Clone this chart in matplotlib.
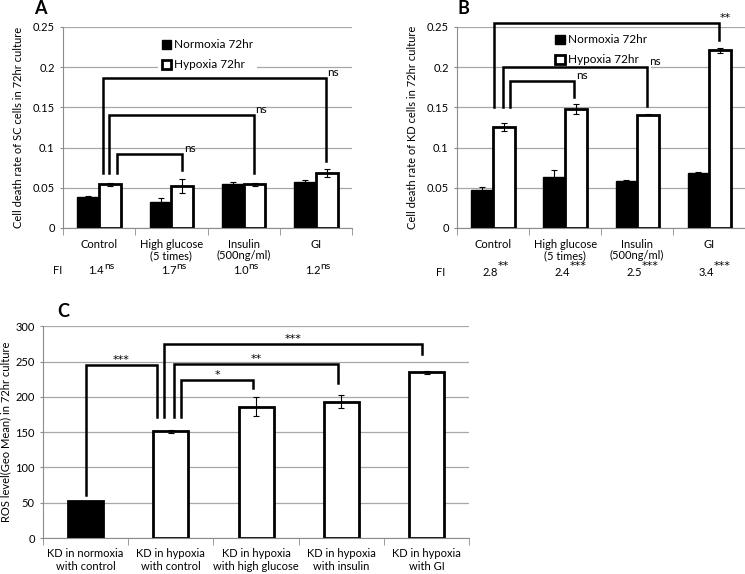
import numpy as np
import matplotlib.pyplot as plt
from matplotlib.transforms import blended_transform_factory

plt.rcParams['font.family'] = ['Lato', 'DejaVu Sans']
plt.rcParams['font.size'] = 8

# ---- panel A / B data ----
groups = ["Control", "High glucose\n(5 times)", "Insulin\n(500ng/ml)", "GI"]
yticks_ab = [0, 0.05, 0.1, 0.15, 0.2, 0.25]
yticklabels_ab = ["0", "0.05", "0.1", "0.15", "0.2", "0.25"]

sc_norm = [0.039, 0.032, 0.055, 0.057]
sc_norm_err = [0.001, 0.005, 0.002, 0.002]
sc_hyp = [0.054, 0.052, 0.054, 0.068]
sc_hyp_err = [0.002, 0.009, 0.002, 0.005]
sc_fi = ["1.4", "1.7", "1.0", "1.2"]
sc_fi_sig = ["ns", "ns", "ns", "ns"]

kd_norm = [0.047, 0.063, 0.058, 0.068]
kd_norm_err = [0.004, 0.009, 0.002, 0.001]
kd_hyp = [0.126, 0.148, 0.141, 0.221]
kd_hyp_err = [0.005, 0.006, 0.001, 0.003]
kd_fi = ["2.8", "2.4", "2.5", "3.4"]
kd_fi_sig = ["**", "***", "***", "***"]

# brackets: (x left, y left, x right, y right, y top, label)
sc_brackets = [(0.24, 0.068, 1.15, 0.072, 0.092, "ns"),
               (0.14, 0.068, 2.14, 0.068, 0.141, "ns"),
               (0.05, 0.068, 3.14, 0.083, 0.186, "ns")]
kd_brackets = [(0.24, 0.151, 1.13, 0.163, 0.183, "ns"),
               (0.14, 0.151, 2.14, 0.152, 0.1996, "ns"),
               (0.02, 0.151, 3.13, 0.2335, 0.2554, "**")]

# ---- panel C data ----
ros_labels = ["KD in normoxia\nwith control", "KD in hypoxia\nwith control",
              "KD in hypoxia\nwith high glucose", "KD in hypoxia\nwith insulin",
              "KD in hypoxia\nwith GI"]
ros_vals = [52, 151, 186, 193, 235]
ros_err = [0, 2, 13.5, 9, 2]
ros_brackets = [(0.0, 61, 0.84, 172, 245, "***"),
                (0.925, 172, 3.945, 260, 275, "***"),
                (1.035, 172, 2.965, 220, 246, "**"),
                (1.125, 172, 1.96, 212, 224, "*")]

GRID = "#a8a8a8"
SPINE = "#8c8c8c"
STAR_FONT = ["DejaVu Sans"]

fig = plt.figure(figsize=(7.45, 5.74), dpi=100)


def style_axes(ax):
    for s in ["top", "right"]:
        ax.spines[s].set_visible(False)
    ax.spines["left"].set_color(SPINE)
    ax.spines["bottom"].set_color(SPINE)
    ax.yaxis.grid(True, color=GRID, lw=0.9)
    ax.set_axisbelow(True)
    ax.tick_params(axis="y", length=2, color=SPINE, pad=4)
    ax.tick_params(axis="x", which="major", length=0)
    ax.tick_params(axis="x", which="minor", length=5, color=SPINE)


def draw_bracket(ax, b, centered=False):
    x0, y0, x1, y1, yt, lab = b
    ax.plot([x0, x0, x1, x1], [y0, yt, yt, y1], color="k", lw=1.8,
            clip_on=False, solid_joinstyle="miter", zorder=4)
    if "*" in lab:
        kw = dict(family=STAR_FONT, fontsize=8)
    else:
        kw = dict(fontsize=8.5)
    if centered:
        ax.text((x0 + x1) / 2, yt, lab, ha="center", va="bottom", **kw)
    else:
        ax.text(x1 + 0.02, yt, lab, ha="left", va="bottom", **kw)


def cell_panel(rect, norm, norm_err, hyp, hyp_err, fi, fi_sig, brackets,
               ylabel, letter, letter_x, leg_y, fi_x, fy):
    ax = fig.add_axes(rect)
    x = np.arange(len(groups))
    w = 0.3
    ax.bar(x - w / 2, norm, w, color="black", edgecolor="black", lw=1,
           label="Normoxia 72hr", zorder=2)
    ax.bar(x + w / 2, hyp, w, color="white", edgecolor="black", lw=2,
           label="Hypoxia 72hr", zorder=2)
    ax.errorbar(x - w / 2, norm, yerr=norm_err, fmt="none", ecolor="black",
                elinewidth=0.8, capsize=2.5, capthick=0.8, zorder=3)
    ax.errorbar(x + w / 2, hyp, yerr=hyp_err, fmt="none", ecolor="black",
                elinewidth=0.8, capsize=2.5, capthick=0.8, zorder=3)
    ax.set_xlim(-0.5, len(groups) - 0.5)
    ax.set_ylim(0, 0.25)
    ax.set_yticks(yticks_ab)
    ax.set_yticklabels(yticklabels_ab)
    ax.set_xticks(x)
    ax.set_xticklabels(groups, linespacing=1.05)
    ax.set_xticks(np.arange(len(groups) + 1) - 0.5, minor=True)
    style_axes(ax)
    ax.tick_params(axis="x", which="major", pad=8)
    ax.set_ylabel(ylabel, fontsize=8, labelpad=6)
    leg = ax.legend(loc="upper center", bbox_to_anchor=(0.5, leg_y),
                    frameon=True, edgecolor="none", facecolor="white",
                    framealpha=1, fancybox=False, handlelength=0.8,
                    handleheight=0.8, handletextpad=0.3, labelspacing=0.75,
                    fontsize=8.5, borderpad=0.3)
    leg.set_zorder(3)
    for b in brackets:
        draw_bracket(ax, b)
    tr = blended_transform_factory(ax.transData, ax.transAxes)
    ax.text(fi_x, fy, "FI", transform=ax.transAxes, ha="center", va="center",
            fontsize=8)
    for i in range(len(groups)):
        ax.text(x[i] - 0.04, fy, fi[i], transform=tr, ha="center",
                va="center", fontsize=8)
        if "*" in fi_sig[i]:
            kw = dict(family=STAR_FONT, fontsize=8)
            off = (5.5, 5.0)
        else:
            kw = dict(fontsize=7.5)
            off = (5.5, 3.5)
        ax.annotate(fi_sig[i], xy=(x[i] - 0.04, fy), xycoords=tr,
                    xytext=off, textcoords="offset points",
                    ha="left", va="center", **kw)
    fig.text(letter_x, 1.0, letter, fontsize=13, fontweight="bold",
             ha="center", va="top")
    return ax


cell_panel([0.0846, 0.603, 0.388, 0.350], sc_norm, sc_norm_err, sc_hyp,
           sc_hyp_err, sc_fi, sc_fi_sig, sc_brackets,
           "Cell death rate of SC cells in 72hr culture", "A", 0.054,
           0.985, -0.02, -0.214)
cell_panel([0.6134, 0.603, 0.387, 0.350], kd_norm, kd_norm_err, kd_hyp,
           kd_hyp_err, kd_fi, kd_fi_sig, kd_brackets,
           "Cell death rate of KD cells in 72hr culture", "B", 0.622,
           1.01, -0.056, -0.222)

# ---- panel C ----
axc = fig.add_axes([0.0577, 0.0627, 0.572, 0.369])
xc = np.arange(len(ros_vals))
wc = 0.41
colors_c = ["black"] + ["white"] * (len(ros_vals) - 1)
axc.bar(xc, ros_vals, wc, color=colors_c, edgecolor="black", lw=2, zorder=2)
axc.errorbar(xc[1:], ros_vals[1:], yerr=ros_err[1:], fmt="none",
             ecolor="black", elinewidth=0.8, capsize=2.5, capthick=0.8,
             zorder=3)
axc.set_xlim(-0.5, len(ros_vals) - 0.5)
axc.set_ylim(0, 300)
axc.set_yticks(np.arange(0, 301, 50))
axc.set_xticks(xc)
axc.set_xticklabels(ros_labels)
axc.set_xticks(np.arange(len(ros_vals) + 1) - 0.5, minor=True)
style_axes(axc)
axc.tick_params(axis="x", which="major", pad=7)
axc.set_ylabel("ROS level(Geo Mean) in 72hr culture", fontsize=8, labelpad=3)
for b in ros_brackets:
    draw_bracket(axc, b, centered=True)
fig.text(0.085, 0.457, "C", fontsize=13, fontweight="bold",
         ha="center", va="center")

fig.savefig("out.png", dpi=100)
